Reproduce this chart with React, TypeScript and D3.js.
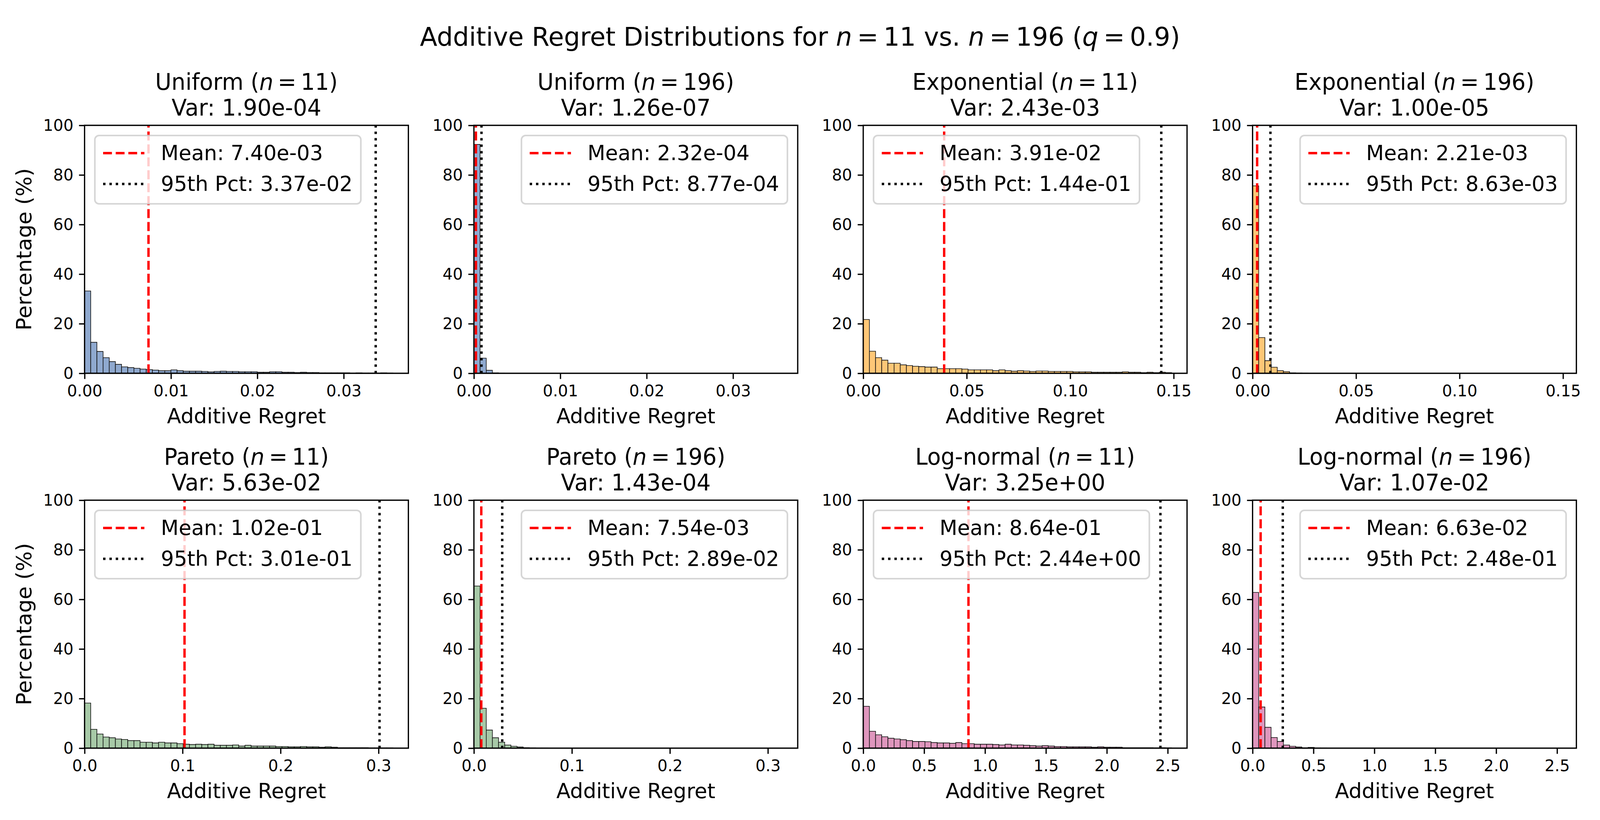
import { useEffect, useRef } from "react";
import * as d3 from "d3";

// figure is 14 x 7 in at 300 dpi
const W = 4200;
const H = 2100;
const PT = 300 / 72;

const distributions = ["Uniform", "Exponential", "Pareto", "Log-normal"];
const sampleSizes = [11, 196];

// upper edge of the 50 shared bins for each distribution
const binMax = [0.0357, 0.149, 0.3147, 2.532];
const xTicks = [
  [0, 0.01, 0.02, 0.03],
  [0, 0.05, 0.1, 0.15],
  [0, 0.1, 0.2, 0.3],
  [0, 0.5, 1, 1.5, 2, 2.5],
];
const xTickFormats = [".2f", ".2f", ".1f", ".1f"];
const yTicks = [0, 20, 40, 60, 80, 100];

const barColors = ["#8fa9cf", "#fec777", "#a7c9a7", "#df96bd"];

// percentage per bin
const uniform11 = [
  33.2, 12.5, 8.8, 6.3, 4.7, 3.6, 2.6, 2.3, 2.0, 1.7,
  1.5, 1.3, 1.05, 1.05, 1.37, 1.05, 0.84, 0.84, 0.84, 0.74,
  0.58, 0.74, 0.84, 0.74, 0.74, 0.63, 0.63, 0.63, 0.42, 0.42,
  0.63, 0.63, 0.42, 0.42, 0.32, 0.42, 0.32, 0.32, 0.21, 0.21,
  0.21, 0.21, 0.21, 0.1, 0.2, 0.1, 0.1, 0.1, 0.2, 0.1,
];
const uniform196 = [
  92.3, 6.1, 1.2, 0.2, 0.05, 0, 0, 0, 0, 0,
  0, 0, 0, 0, 0, 0, 0, 0, 0, 0,
  0, 0, 0, 0, 0, 0, 0, 0, 0, 0,
  0, 0, 0, 0, 0, 0, 0, 0, 0, 0,
  0, 0, 0, 0, 0, 0, 0, 0, 0, 0,
];
const exponential11 = [
  21.7, 8.9, 6.3, 5.3, 4.05, 4.05, 3.4, 3.1, 2.84, 2.7,
  2.5, 2.5, 1.84, 1.84, 1.84, 1.84, 1.7, 1.37, 1.37, 1.37,
  1.37, 1.05, 1.37, 1.05, 0.84, 1.05, 0.9, 0.74, 0.9, 0.9,
  0.74, 0.74, 0.74, 0.74, 0.58, 0.58, 0.58, 0.42, 0.42, 0.42,
  0.42, 0.42, 0.58, 0.42, 0.42, 0.26, 0.42, 0.26, 0.42, 0.26,
];
const exponential196 = [
  75.6, 14.4, 5.1, 2.45, 1.04, 0.67, 0.2, 0.1, 0.05, 0,
  0, 0, 0, 0, 0, 0, 0, 0, 0, 0,
  0, 0, 0, 0, 0, 0, 0, 0, 0, 0,
  0, 0, 0, 0, 0, 0, 0, 0, 0, 0,
  0, 0, 0, 0, 0, 0, 0, 0, 0, 0,
];
const pareto11 = [
  18.2, 7.6, 5.7, 4.5, 4.2, 3.7, 3.5, 3.05, 3.05, 2.4,
  2.4, 2.1, 2.4, 2.1, 2.1, 1.8, 1.6, 1.47, 1.6, 1.47,
  1.6, 1.16, 1.16, 1.16, 1.3, 0.84, 1.16, 0.84, 0.84, 0.84,
  0.84, 0.68, 0.68, 0.53, 0.53, 0.68, 0.53, 0.53, 0.37, 0.53,
  0.37, 0.2, 0.2, 0.2, 0.2, 0.2, 0.1, 0.1, 0.1, 0.1,
];
const pareto196 = [
  65.4, 16.1, 7.3, 4.2, 2.4, 1.27, 0.75, 0.45, 0.2, 0.1,
  0.05, 0.05, 0.03, 0.03, 0.02, 0, 0, 0, 0, 0,
  0, 0, 0, 0, 0, 0, 0, 0, 0, 0,
  0, 0, 0, 0, 0, 0, 0, 0, 0, 0,
  0, 0, 0, 0, 0, 0, 0, 0, 0, 0,
];
const lognormal11 = [
  16.9, 6.8, 5.4, 4.6, 4.0, 3.7, 3.4, 3.05, 2.7, 2.7,
  2.6, 2.26, 2.1, 2.1, 1.95, 2.26, 1.8, 1.8, 1.6, 1.6,
  1.6, 1.47, 1.3, 1.6, 1.3, 1.3, 1.16, 1.0, 0.84, 1.0,
  0.84, 0.68, 0.68, 0.53, 0.53, 0.53, 0.53, 0.37, 0.53, 0.37,
  0.37, 0.37, 0.2, 0.2, 0.2, 0.2, 0.2, 0.1, 0.2, 0.1,
];
const lognormal196 = [
  62.8, 16.6, 8.4, 4.3, 2.7, 1.27, 0.75, 0.45, 0.15, 0.3,
  0.07, 0.05, 0.03, 0, 0, 0, 0, 0, 0, 0,
  0, 0, 0, 0, 0, 0, 0, 0, 0, 0,
  0, 0, 0, 0, 0, 0, 0, 0, 0, 0,
  0, 0, 0, 0, 0, 0, 0, 0, 0, 0,
];
const counts = [
  [uniform11, uniform196],
  [exponential11, exponential196],
  [pareto11, pareto196],
  [lognormal11, lognormal196],
];

const means = [
  [7.4e-3, 2.32e-4],
  [3.91e-2, 2.21e-3],
  [1.02e-1, 7.54e-3],
  [8.64e-1, 6.63e-2],
];
const pct95 = [
  [3.37e-2, 8.77e-4],
  [1.44e-1, 8.63e-3],
  [3.01e-1, 2.89e-2],
  [2.44, 2.48e-1],
];
const variances = [
  [1.9e-4, 1.26e-7],
  [2.43e-3, 1.0e-5],
  [5.63e-2, 1.43e-4],
  [3.25, 1.07e-2],
];
// legend placement ("best") per sample size
const legendSide = ["left", "right"];

// layout, in figure pixels
const AX_LEFT0 = 222;
const AX_PITCH = 1022;
const AX_W = 850;
const AX_TOP = [321, 1281];
const AX_H = 635;
const FONT = "'DejaVu Sans', sans-serif";

// DejaVu Sans advance widths (em) for the legend text
const ADV: Record<string, number> = {
  "0": 0.636, "1": 0.636, "2": 0.636, "3": 0.636, "4": 0.636,
  "5": 0.636, "6": 0.636, "7": 0.636, "8": 0.636, "9": 0.636,
  ".": 0.318, "e": 0.615, "-": 0.838 * 0 + 0.361, "+": 0.838, "M": 0.863,
  "a": 0.613, "n": 0.634, ":": 0.337, " ": 0.318, "t": 0.392,
  "h": 0.634, "P": 0.603, "c": 0.55,
};
const textWidth = (s: string, size: number) =>
  d3.sum(s.split(""), (c) => ADV[c] ?? 0.6) * size;

const sci = (v: number) =>
  v.toExponential(2).replace(/e([+-])(\d)$/, "e$10$2");

// [text, italic, extra space before (em), extra space after (em)]
type Piece = [string, boolean, number?, number?];

function mathText(sel: any, parts: Piece[], size: number) {
  parts.forEach(([t, italic, before = 0]) => {
    sel
      .append("tspan")
      .attr("font-style", italic ? "italic" : "normal")
      .attr("dx", before ? before * size : null)
      .text(t);
  });
}

const App = () => {
  const svgRef = useRef<SVGSVGElement>(null);

  useEffect(() => {
    if (!svgRef.current) return;
    const svg = d3.select(svgRef.current);
    svg.selectAll("*").remove();
    svg.style("white-space", "pre");

    svg.append("rect").attr("width", W).attr("height", H).attr("fill", "white");

    const supSize = 16 * PT;
    const sup = svg
      .append("text")
      .attr("x", W / 2)
      .attr("y", 117)
      .attr("text-anchor", "middle")
      .attr("font-family", FONT)
      .attr("font-size", supSize);
    mathText(
      sup,
      [
        ["Additive Regret Distributions for ", false],
        ["n", true],
        ["=", false, 0.2],
        ["11", false, 0.2],
        [" vs. ", false],
        ["n", true],
        ["=", false, 0.2],
        ["196", false, 0.2],
        [" (", false],
        ["q", true],
        ["=", false, 0.2],
        ["0.9", false, 0.2],
        [")", false],
      ],
      supSize
    );

    const defs = svg.append("defs");

    for (let i = 0; i < 8; i++) {
      const row = Math.floor(i / 4);
      const col = i % 4;
      const d = row * 2 + Math.floor(col / 2);
      const s = col % 2;
      const left = AX_LEFT0 + col * AX_PITCH;
      const top = AX_TOP[row];
      const bottom = top + AX_H;

      const x = d3.scaleLinear().domain([0, binMax[d] * 1.05]).range([left, left + AX_W]);
      const y = d3.scaleLinear().domain([0, 100]).range([bottom, top]);
      const heights = counts[d][s];
      const bw = binMax[d] / heights.length;

      const clipId = `clip-${i}`;
      defs
        .append("clipPath")
        .attr("id", clipId)
        .append("rect")
        .attr("x", left)
        .attr("y", top)
        .attr("width", AX_W)
        .attr("height", AX_H);

      const g = svg.append("g");
      const plot = g.append("g").attr("clip-path", `url(#${clipId})`);

      // histogram
      plot
        .selectAll("path.bar")
        .data(heights)
        .join("path")
        .attr("class", "bar")
        .attr("d", (h, k) => {
          const x0 = x(k * bw);
          const x1 = x((k + 1) * bw);
          return `M${x0},${y(0)}V${y(h)}H${x1}V${y(0)}Z`;
        })
        .attr("fill", barColors[d])
        .attr("stroke", "#111")
        .attr("stroke-width", 1.6);

      // mean and 95th percentile
      const dashed = `${3.7 * 1.5 * PT},${1.6 * 1.5 * PT}`;
      const dotted = `${1.5 * PT},${1.65 * 1.5 * PT}`;
      plot
        .append("line")
        .attr("x1", x(means[d][s]))
        .attr("x2", x(means[d][s]))
        .attr("y1", bottom)
        .attr("y2", top)
        .attr("stroke", "red")
        .attr("stroke-width", 1.5 * PT)
        .attr("stroke-dasharray", dashed);
      plot
        .append("line")
        .attr("x1", x(pct95[d][s]))
        .attr("x2", x(pct95[d][s]))
        .attr("y1", bottom)
        .attr("y2", top)
        .attr("stroke", "black")
        .attr("stroke-width", 1.5 * PT)
        .attr("stroke-dasharray", dotted);

      // spines
      g.append("rect")
        .attr("x", left)
        .attr("y", top)
        .attr("width", AX_W)
        .attr("height", AX_H)
        .attr("fill", "none")
        .attr("stroke", "black")
        .attr("stroke-width", 0.8 * PT);

      // axes
      const xa = g
        .append("g")
        .attr("transform", `translate(0,${bottom})`)
        .call(
          d3
            .axisBottom(x)
            .tickValues(xTicks[d])
            .tickFormat(d3.format(xTickFormats[d]) as any)
            .tickSize(3.5 * PT)
            .tickPadding(3.5 * PT)
        );
      xa.select(".domain").remove();
      xa.attr("font-size", 10 * PT).attr("font-family", FONT);
      xa.selectAll("line").attr("stroke-width", 0.8 * PT);

      const ya = g
        .append("g")
        .attr("transform", `translate(${left},0)`)
        .call(
          d3
            .axisLeft(y)
            .tickValues(yTicks)
            .tickFormat(d3.format("d") as any)
            .tickSize(3.5 * PT)
            .tickPadding(3.5 * PT)
        );
      ya.select(".domain").remove();
      ya.attr("font-size", 10 * PT).attr("font-family", FONT);
      ya.selectAll("line").attr("stroke-width", 0.8 * PT);

      // title
      const cx = left + AX_W / 2;
      const titleSize = 14 * PT;
      const t1 = g
        .append("text")
        .attr("x", cx)
        .attr("y", top - 25 - 65.5)
        .attr("text-anchor", "middle")
        .attr("font-family", FONT)
        .attr("font-size", titleSize);
      mathText(
        t1,
        [
          [`${distributions[d]} (`, false],
          ["n", true],
          ["=", false, 0.2],
          [`${sampleSizes[s]}`, false, 0.2],
          [")", false],
        ],
        titleSize
      );
      g.append("text")
        .attr("x", cx)
        .attr("y", top - 25)
        .attr("text-anchor", "middle")
        .attr("font-family", FONT)
        .attr("font-size", titleSize)
        .text(`Var: ${sci(variances[d][s])}`);

      // axis labels
      g.append("text")
        .attr("x", cx)
        .attr("y", bottom + 128)
        .attr("text-anchor", "middle")
        .attr("font-family", FONT)
        .attr("font-size", 13 * PT)
        .text("Additive Regret");
      if (col === 0) {
        g.append("text")
          .attr("transform", `translate(82,${top + AX_H / 2}) rotate(-90)`)
          .attr("text-anchor", "middle")
          .attr("font-family", FONT)
          .attr("font-size", 13 * PT)
          .text("Percentage (%)");
      }

      // legend
      const fs = 13 * PT;
      const pad = 0.4 * fs;
      const handleLen = 2 * fs;
      const textPad = 0.8 * fs;
      const items = [
        { label: `Mean: ${sci(means[d][s])}`, color: "red", dash: dashed },
        { label: `95th Pct: ${sci(pct95[d][s])}`, color: "black", dash: dotted },
      ];
      const textW = d3.max(items, (it) => textWidth(it.label, fs)) || 0;
      const frameW = pad * 2 + handleLen + textPad + textW;
      const frameH = 175;
      const fx = legendSide[s] === "left" ? left + 27 : left + AX_W - 27 - frameW;
      const fy = top + 26;
      const lg = g.append("g").attr("transform", `translate(${fx},${fy})`);
      lg.append("rect")
        .attr("width", frameW)
        .attr("height", frameH)
        .attr("rx", 0.2 * fs)
        .attr("fill", "white")
        .attr("fill-opacity", 0.8)
        .attr("stroke", "#cccccc")
        .attr("stroke-opacity", 0.8)
        .attr("stroke-width", PT);
      items.forEach((it, k) => {
        lg.append("line")
          .attr("x1", pad)
          .attr("x2", pad + handleLen)
          .attr("y1", 45 + k * 79)
          .attr("y2", 45 + k * 79)
          .attr("stroke", it.color)
          .attr("stroke-width", 1.5 * PT)
          .attr("stroke-dasharray", it.dash);
        lg.append("text")
          .attr("x", pad + handleLen + textPad)
          .attr("y", 63.5 + k * 79)
          .attr("font-family", FONT)
          .attr("font-size", fs)
          .text(it.label);
      });
    }
  }, []);

  return (
    <svg
      ref={svgRef}
      viewBox={`0 0 ${W} ${H}`}
      preserveAspectRatio="none"
      style={{ position: "fixed", left: 0, top: 0, width: "100%", height: "100%", background: "white" }}
    />
  );
};

export default App;
